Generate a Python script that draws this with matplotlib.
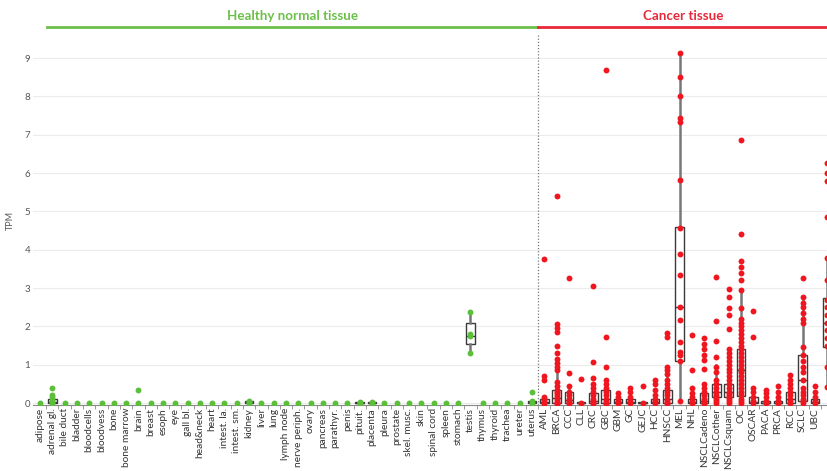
import matplotlib
matplotlib.use("Agg")
import matplotlib.pyplot as plt
from matplotlib.lines import Line2D

plt.rcParams['font.family'] = ['Lato', 'DejaVu Sans']

healthy_labels = ["adipose", "adrenal gl.", "bile duct", "bladder", "bloodcells", "bloodvess", "bone",
                  "bone marrow", "brain", "breast", "esoph", "eye", "gall bl.", "head&neck", "heart",
                  "intest. la.", "intest. sm.", "kidney", "liver", "lung", "lymph node", "nerve periph.",
                  "ovary", "pancreas", "parathyr.", "penis", "pituit.", "placenta", "pleura", "prostate",
                  "skel. musc.", "skin", "spinal cord", "spleen", "stomach", "testis", "thymus", "thyroid",
                  "trachea", "ureter", "uterus"]

cancer_labels = ["AML", "BRCA", "CCC", "CLL", "CRC", "GBC", "GBM", "GC", "GEJC", "HCC", "HNSCC", "MEL",
                 "NHL", "NSCLCadeno", "NSCLCother", "NSCLCsquam", "OC", "OSCAR", "PACA", "PRCA", "RCC",
                 "SCLC", "UBC", "UEC"]

# individual sample values (TPM)
healthy_values = [[0] for _ in healthy_labels]
healthy_values[1] = [0, 0.03, 0.08, 0.15, 0.2, 0.4]      # adrenal gl.
healthy_values[8] = [0, 0.35]                            # brain
healthy_values[17] = [0, 0.03, 0.06]                     # kidney
healthy_values[26] = [0, 0.02]                           # pituit.
healthy_values[27] = [0, 0.02]                           # placenta
healthy_values[35] = [1.3, 1.75, 1.8, 2.37]              # testis
healthy_values[40] = [0, 0.05, 0.3]                      # uterus

cancer_values = [
    [0, 0, 0.05, 0.1, 0.15, 0.6, 0.7, 3.75],
    [0, 0, 0, 0.05, 0.1, 0.15, 0.2, 0.25, 0.3, 0.35, 0.45, 0.55, 0.85, 0.95, 1.05, 1.15, 1.3, 1.5,
     1.85, 1.95, 2.05, 5.4],
    [0, 0, 0.05, 0.1, 0.2, 0.3, 0.45, 0.78, 3.25],
    [0, 0.62],
    [0, 0, 0.05, 0.1, 0.2, 0.3, 0.4, 0.5, 0.65, 1.07, 3.05],
    [0, 0, 0.05, 0.1, 0.2, 0.3, 0.4, 0.5, 0.6, 0.94, 1.72, 8.7],
    [0, 0.05, 0.15, 0.25],
    [0, 0.05, 0.15, 0.3, 0.4],
    [0, 0.45],
    [0, 0.05, 0.1, 0.2, 0.35, 0.5, 0.6],
    [0, 0, 0.05, 0.1, 0.2, 0.3, 0.4, 0.5, 0.6, 0.75, 0.85, 0.94, 1.72, 1.82],
    [0.05, 1.1, 1.25, 1.33, 1.6, 2.17, 2.5, 3.33, 3.9, 4.57, 5.82, 7.33, 7.43, 8.0, 8.5, 9.13],
    [0, 0.05, 0.15, 0.25, 0.4, 0.85, 1.77],
    [0, 0, 0.05, 0.1, 0.2, 0.3, 0.4, 0.5, 0.9, 1.12, 1.25, 1.4, 1.55, 1.7],
    [0, 0.05, 0.1, 0.15, 0.2, 0.3, 0.4, 0.5, 0.6, 0.8, 0.95, 1.2, 1.62, 2.14, 3.3],
    [0, 0.05, 0.1, 0.15, 0.2, 0.25, 0.3, 0.4, 0.5, 0.6, 0.7, 0.8, 0.9, 1.0, 1.1, 1.2, 1.3, 1.4,
     1.93, 2.3, 2.47, 2.77, 2.97],
    [0, 0.05, 0.1, 0.2, 0.3, 0.4, 0.5, 0.6, 0.7, 0.8, 0.9, 1.0, 1.1, 1.2, 1.3, 1.4, 1.5, 1.6, 1.7,
     1.8, 1.9, 2.0, 2.1, 2.2, 2.47, 2.95, 3.2, 3.4, 3.55, 3.7, 4.4, 6.86],
    [0, 0.05, 0.15, 0.3, 0.4, 1.72, 2.4],
    [0, 0.05, 0.15, 0.25, 0.35],
    [0, 0.05, 0.15, 0.3, 0.45],
    [0, 0.05, 0.1, 0.2, 0.3, 0.4, 0.5, 0.6, 0.73],
    [0, 0.05, 0.1, 0.2, 0.3, 0.4, 0.6, 0.8, 0.95, 1.1, 1.25, 1.45, 2.08, 2.2, 2.35, 2.5, 2.6, 2.77, 3.27],
    [0, 0.05, 0.15, 0.3, 0.45],
    [0.42, 0.94, 1.5, 1.7, 1.9, 2.1, 2.3, 2.5, 2.7, 3.2, 3.78, 4.85, 5.8, 6.0, 6.26],
]

# box statistics: (q1, median, q3, whisker low, whisker high)
healthy_boxes = {1: (0, 0.03, 0.1, 0, 0.2), 17: (0, 0.02, 0.05, 0, 0.06), 26: (0, 0.01, 0.02, 0, 0.02),
                 27: (0, 0.01, 0.02, 0, 0.02), 35: (1.54, 1.75, 2.08, 1.3, 2.37), 40: (0, 0.02, 0.05, 0, 0.05)}
cancer_q1 = [0, 0, 0, 0, 0, 0, 0, 0, 0, 0, 0, 1.1, 0, 0, 0.15, 0.15, 0.18, 0, 0, 0, 0, 0.05, 0, 1.45]
cancer_med = [0.03, 0.12, 0.08, 0, 0.05, 0.1, 0.02, 0.02, 0, 0.02, 0.1, 2.5, 0.02, 0.05, 0.3, 0.3, 0.85,
              0.03, 0, 0, 0.1, 0.6, 0.02, 2.08]
cancer_q3 = [0.1, 0.35, 0.3, 0.02, 0.25, 0.35, 0.1, 0.1, 0.02, 0.1, 0.35, 4.6, 0.1, 0.25, 0.5, 0.5, 1.4,
             0.15, 0.05, 0.05, 0.3, 1.25, 0.1, 2.75]
cancer_lo = [0, 0, 0, 0, 0, 0, 0, 0, 0, 0, 0, 0.05, 0, 0, 0, 0, 0, 0, 0, 0, 0, 0, 0, 0.42]
cancer_hi = [0.15, 0.85, 0.45, 0.02, 0.5, 0.6, 0.25, 0.3, 0.02, 0.2, 0.85, 9.13, 0.25, 0.5, 1.0, 1.0, 2.95,
             0.4, 0.1, 0.1, 0.6, 2.77, 0.2, 3.78]

GREEN = "#5cbf3a"
RED = "#f0161f"

fig = plt.figure(figsize=(8.28, 4.71), dpi=100)
ax = fig.add_axes([33 / 828, 1 - 405 / 471, 795 / 828, 370 / 471])

n_h = len(healthy_labels)
labels = healthy_labels + cancer_labels
values = healthy_values + cancer_values

# boxes
stats, pos = [], []
for i, b in healthy_boxes.items():
    q1, med, q3, lo, hi = b
    stats.append(dict(q1=q1, med=med, q3=q3, whislo=lo, whishi=hi, fliers=[]))
    pos.append(i)
for j in range(len(cancer_labels)):
    stats.append(dict(q1=cancer_q1[j], med=cancer_med[j], q3=cancer_q3[j],
                      whislo=cancer_lo[j], whishi=cancer_hi[j], fliers=[]))
    pos.append(n_h + j)
ax.bxp(stats, positions=pos, widths=0.7, showfliers=False, showcaps=False, patch_artist=True,
       boxprops=dict(facecolor="white", edgecolor="#3a3a3a", linewidth=1.0),
       medianprops=dict(color="#3a3a3a", linewidth=1.0),
       whiskerprops=dict(color="#777777", linewidth=1.8), zorder=3)

# points
for i, vals in enumerate(values):
    col = GREEN if i < n_h else RED
    ax.scatter([i] * len(vals), vals, s=18, color=col, zorder=4, linewidths=0)

ax.set_xlim(-0.57, 64.07)
ax.set_ylim(-0.052, 9.6)
ax.set_yticks(range(10))
ax.yaxis.grid(True, color="#ececec", linewidth=0.8)
ax.set_axisbelow(True)
ax.set_ylabel("TPM", fontsize=6.5, color="#555555")
ax.yaxis.set_label_coords(-18 / 795, 0.5)
ax.tick_params(axis="y", length=0, labelsize=7, colors="#555555", pad=2)

ax.set_xticks(range(len(labels) - 1))
ax.set_xticklabels(labels[:-1], rotation=90, fontsize=7.3, color="#333333")
ax.tick_params(axis="x", length=0, pad=2)
ax.set_xticks([k + 0.5 for k in range(len(labels) - 1)], minor=True)
ax.tick_params(axis="x", which="minor", length=3, color="#888888", width=0.6)

for s in ["top", "right", "left"]:
    ax.spines[s].set_visible(False)
ax.spines["bottom"].set_color("#888888")
ax.spines["bottom"].set_linewidth(0.8)

ax.axvline(n_h - 0.5, color="#777777", linestyle=(0, (1, 1.5)), linewidth=0.9, zorder=2)

# group headers
xsep = ax.transData.transform((n_h - 0.5, 0))[0] / fig.bbox.width
fig.add_artist(Line2D([47 / 828, xsep], [1 - 27 / 471] * 2, color="#6cc04a", linewidth=2))
fig.add_artist(Line2D([xsep, 1.0], [1 - 27 / 471] * 2, color="#e8283a", linewidth=2))
fig.text((47 / 828 + xsep) / 2, 1 - 16 / 471, "Healthy normal tissue", color="#6cc04a",
         fontsize=9.6, fontweight="bold", ha="center", va="center")
fig.text((xsep + 1.0) / 2, 1 - 16 / 471, "Cancer tissue", color="#e8283a",
         fontsize=9.6, fontweight="bold", ha="center", va="center")

fig.savefig("out.png", dpi=100)
